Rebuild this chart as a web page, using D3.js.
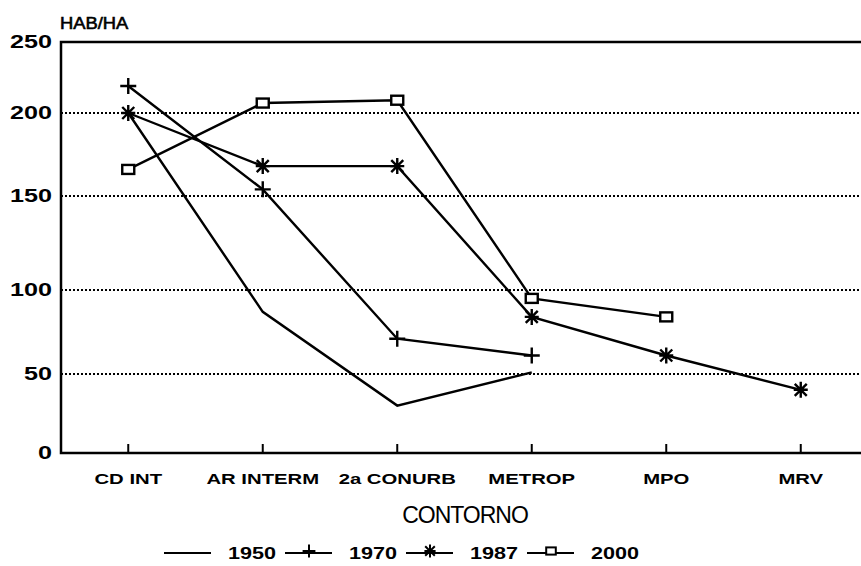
<html>
  <head>
    <style>
      body { margin: 0; background: #fff; }
      text { font-family: "Liberation Sans", Arial, sans-serif; fill: #000; }
    </style>
  </head>
  <body>
    <svg></svg>
    <script src="https://d3js.org/d3.v7.min.js"></script>
    <script>
      let width = 861,
        height = 566;

      // data
      let categories = ["CD INT", "AR INTERM", "2a CONURB", "METROP", "MPO", "MRV"];
      let years = ["1950", "1970", "1987", "2000"];
      let v1950 = [200, 87, 30, 51];
      let v1970 = [219, 154, 71, 61];
      let v1987 = [200, 168, 168, 84, 61, 40];
      let v2000 = [166, 207, 209, 95, 84];
      let symbols = ["none", "plus", "star", "square"];
      let yTicks = [0, 50, 100, 150, 200, 250];

      let series = years.map((y, i) => ({
        name: y,
        values: [v1950, v1970, v1987, v2000][i],
        symbol: symbols[i],
      }));

      let svg = d3.select("svg").attr("width", width).attr("height", height);

      let plotLeft = 61,
        plotTop = 42,
        plotBottom = 453;

      let x = d3.scalePoint().domain(categories).range([plotLeft, 868]).padding(0.5);
      // the scan is slightly stretched, so the gridlines are not evenly spaced
      let y = d3
        .scaleLinear()
        .domain(yTicks)
        .range([plotBottom, 374, 290, 196, 113, plotTop]);

      // dotted gridlines
      svg
        .append("g")
        .selectAll("line")
        .data(yTicks.filter((d) => d > 0 && d < 250))
        .enter()
        .append("line")
        .attr("x1", plotLeft)
        .attr("x2", width)
        .attr("y1", (d) => y(d))
        .attr("y2", (d) => y(d))
        .attr("stroke", "#000")
        .attr("stroke-width", 2)
        .attr("stroke-dasharray", "2,2");

      // frame: top, left, bottom
      svg
        .append("path")
        .attr("d", `M${width},${plotTop}H${plotLeft}V${plotBottom}H${width}`)
        .attr("fill", "none")
        .attr("stroke", "#000")
        .attr("stroke-width", 2.5);

      // x ticks
      svg
        .append("g")
        .selectAll("line")
        .data(categories)
        .enter()
        .append("line")
        .attr("x1", (d) => x(d))
        .attr("x2", (d) => x(d))
        .attr("y1", plotBottom)
        .attr("y2", plotBottom - 9)
        .attr("stroke", "#000")
        .attr("stroke-width", 2);

      // y tick labels (the old plotter font is wide, so stretch it)
      svg
        .append("g")
        .selectAll("text")
        .data(yTicks)
        .enter()
        .append("text")
        .attr("transform", (d) => `translate(52,${y(d) + 6}) scale(1.4,1)`)
        .attr("text-anchor", "end")
        .attr("font-size", 18)
        .attr("font-weight", "bold")
        .text((d) => d);

      svg
        .append("text")
        .attr("transform", "translate(60,29) scale(1.08,1)")
        .attr("font-size", 17)
        .attr("stroke", "#000")
        .attr("stroke-width", 0.6)
        .text("HAB/HA");

      // x labels
      svg
        .append("g")
        .selectAll("text")
        .data(categories)
        .enter()
        .append("text")
        .attr("transform", (d) => `translate(${x(d)},484) scale(1.45,1)`)
        .attr("text-anchor", "middle")
        .attr("font-size", 14)
        .attr("font-weight", "bold")
        .text((d) => d);

      svg
        .append("text")
        .attr("x", 465)
        .attr("y", 523)
        .attr("text-anchor", "middle")
        .attr("font-size", 23)
        .attr("letter-spacing", -1)
        .text("CONTORNO");

      function drawSymbol(g, type) {
        if (type == "plus") {
          g.append("path").attr("d", "M-8,0H8M0,-8V8");
        } else if (type == "star") {
          g.append("path").attr("d", "M-6,-6L6,6M-6,6L6,-6M0,-8V8M-7,0H7");
        } else if (type == "square") {
          g.append("rect")
            .attr("x", -6)
            .attr("y", -4.5)
            .attr("width", 12)
            .attr("height", 9)
            .attr("fill", "#fff");
        }
      }

      let line = d3
        .line()
        .x((d, i) => x(categories[i]))
        .y((d) => y(d));

      let groups = svg
        .append("g")
        .selectAll("g")
        .data(series)
        .enter()
        .append("g")
        .attr("fill", "none")
        .attr("stroke", "#000")
        .attr("stroke-width", 2.4);

      groups.append("path").attr("d", (d) => line(d.values));

      groups.each(function (s) {
        d3.select(this)
          .selectAll("g")
          .data(s.values)
          .enter()
          .append("g")
          .attr("transform", (d, i) => `translate(${x(categories[i])},${y(d)})`)
          .each(function () {
            drawSymbol(d3.select(this), s.symbol);
          });
      });

      // legend
      let legend = svg
        .append("g")
        .selectAll("g")
        .data(series)
        .enter()
        .append("g")
        .attr("transform", (d, i) => `translate(${164 + i * 121},553)`);

      legend
        .append("line")
        .attr("x1", 0)
        .attr("x2", 47)
        .attr("stroke", "#000")
        .attr("stroke-width", 2);

      legend.each(function (s) {
        let g = d3
          .select(this)
          .append("g")
          .attr("transform", "translate(24,-2) scale(0.8)")
          .attr("fill", "none")
          .attr("stroke", "#000")
          .attr("stroke-width", 2.5);
        drawSymbol(g, s.symbol);
      });

      legend
        .append("text")
        .attr("transform", "translate(64,6) scale(1.35,1)")
        .attr("font-size", 16)
        .attr("font-weight", "bold")
        .text((d) => d.name);
    </script>
  </body>
</html>
